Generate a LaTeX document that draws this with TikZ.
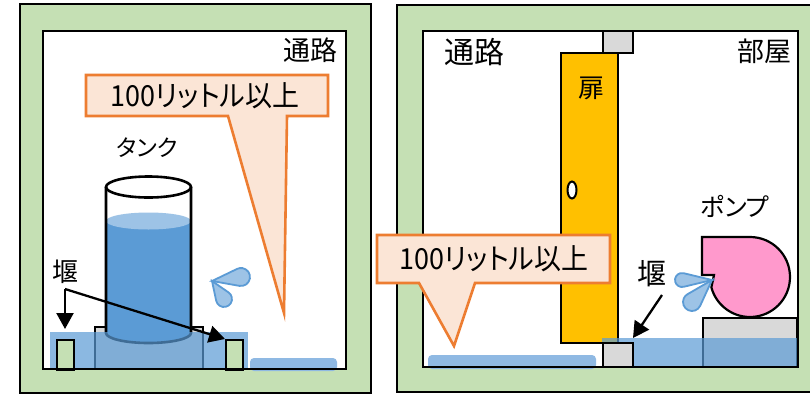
\documentclass[tikz,border=0pt]{standalone}
\usepackage{fontspec}
\newfontfamily\jp[RawFeature=+palt]{Noto Sans CJK JP}
\usetikzlibrary{arrows.meta,calc}
\definecolor{framegreen}{HTML}{C5E0B4}
\definecolor{doorgold}{HTML}{FFC000}
\definecolor{blockgray}{HTML}{D9D9D9}
\definecolor{pumppink}{HTML}{FF99CC}
\definecolor{notefill}{HTML}{FBE5D6}
\definecolor{noteline}{HTML}{ED7D31}
\definecolor{waterdark}{HTML}{5B9BD5}
\definecolor{waterlight}{HTML}{9DC3E6}
\definecolor{puddle}{HTML}{8FB9E3}
\begin{document}
\begin{tikzpicture}[x=1pt,y=-1pt,
  outline/.style={draw=black,line width=2.6pt},
  wall/.style={outline,fill=framegreen},
  room/.style={outline,fill=white},
  grayblock/.style={outline,line width=2.2pt,fill=blockgray},
  flood/.style={fill=waterdark,fill opacity=0.7},
  pool/.style={fill=puddle,rounded corners=4pt},
  callout/.style={fill=notefill,draw=noteline,line width=2.6pt,line join=miter},
  droplet/.style={fill=waterlight,draw=waterdark,line width=1.8pt},
  pointer/.style={line width=2.3pt,-{Triangle[length=16pt,width=17pt]}},
  label/.style={inner sep=0pt,font=\jp},
]
\useasboundingbox (0,0) rectangle (810,394);
\fill[white] (0,0) rectangle (810,394);

% ---------- left room: tank ----------
\draw[wall] (20,4) rectangle (371,393);
\draw[room] (43,31) rectangle (346,369);

% tank stand
\draw[grayblock] (95,327) rectangle (203,369);
% water inside the tank
\fill[waterdark] (106,221) -- (106,333)
  arc[start angle=180,end angle=0,x radius=42.5,y radius=10] -- (191,221) -- cycle;
\fill[waterlight] (148.5,221) ellipse[x radius=42.5,y radius=8.5];
% tank walls
\draw[room] (148.5,187) ellipse[x radius=42.5,y radius=10.5];
\draw[outline] (106,187) -- (106,333)
  arc[start angle=180,end angle=0,x radius=42.5,y radius=10] -- (191,187);
% water kept by the weirs
\fill[flood] (50,332) rectangle (248,369);
\node[draw=black,line width=2.2pt,fill=framegreen,minimum width=17pt,minimum height=30pt,
  inner sep=0pt,anchor=north west] (weirL) at (56,339) {};
\node[draw=black,line width=2.2pt,fill=framegreen,minimum width=17pt,minimum height=30pt,
  inner sep=0pt,anchor=north west] (weirR) at (225,339) {};
% spill on the floor
\fill[pool] (250,358) rectangle (337,371);
\draw[outline] (43,31) rectangle (346,369);

% labels
\node[label,font=\jp\fontsize{27pt}{27pt}\selectfont] (passL) at (310,50) {通路};
\node[label,font=\jp\fontsize{23pt}{23pt}\selectfont] (tank) at (147,148) {タンク};
\node[label,font=\jp\fontsize{26pt}{26pt}\selectfont] (weirlabL) at (65,272) {堰};
\coordinate (forkL) at (65,289);
\coordinate (tipL) at (65,329);
\draw[pointer] (forkL) -- (tipL);
\draw[pointer] (forkL) -- (weirR.north west);

% drops
\draw[droplet] (212,281) -- ($(241,277)+(100:9)$)
  arc[start angle=100,end angle=-115.8,radius=9] -- cycle;
\draw[droplet] (212,281) -- ($(224,299)+(168:8)$)
  arc[start angle=168,end angle=-55.4,radius=8] -- cycle;

% callout
\draw[callout] (86,75) -- (328,75) -- (328,116) -- (287,116) -- (284,313)
  -- (228,116) -- (86,116) -- cycle;
\node[label,font=\jp\fontsize{29pt}{29pt}\selectfont,xscale=0.93] (noteL) at (205,96) {100リットル以上};

% ---------- right room: pump ----------
\draw[wall] (397,5) rectangle (816,392);
\draw[room] (423,31) rectangle (798,367);

% door
\draw[outline,fill=doorgold] (561,53) rectangle (618,343);
\draw[outline,line width=2pt,fill=white] (572,190) ellipse[x radius=4.5,y radius=8.5];
\draw[grayblock] (603,31) rectangle (633,53);
\node[label,font=\jp\fontsize{26pt}{26pt}\selectfont] (door) at (591,88) {扉};

% pump and its base
\draw[grayblock] (703,318) rectangle (797,367);
\draw[outline,line width=2.2pt,fill=pumppink] (702,237) -- (750,237)
  arc[start angle=-90,end angle=165,radius=40] -- (714,275) -- (702,275) -- cycle;

% water in the room
\fill[flood] (602,338) rectangle (798,367);
\draw[grayblock] (603,343) rectangle (633,367);
\fill[pool] (428,355) rectangle (596,369);
\draw[outline] (423,31) rectangle (798,367);

% drops from the pump
\draw[droplet] (712,280) -- ($(682,280)+(76.5:7)$)
  arc[start angle=76.5,end angle=283.5,radius=7] -- cycle;
\draw[droplet] (712,280) -- ($(692,302)+(24.7:9)$)
  arc[start angle=24.7,end angle=239.9,radius=9] -- cycle;

% labels
\node[label,font=\jp\fontsize{30pt}{30pt}\selectfont] (passR) at (474,52) {通路};
\node[label,font=\jp\fontsize{27pt}{27pt}\selectfont] (roomR) at (764,51) {部屋};
\node[label,font=\jp\fontsize{25pt}{25pt}\selectfont] (pump) at (735,206) {ポンプ};
\node[label,font=\jp\fontsize{29pt}{29pt}\selectfont] (weirlabR) at (652,274) {堰};
\coordinate (fromR) at (662,295);
\coordinate (tipR) at (633,338);
\draw[pointer] (fromR) -- (tipR);

% callout
\draw[callout] (377,235) -- (610,235) -- (610,283) -- (475,283) -- (454,346)
  -- (419,283) -- (377,283) -- cycle;
\node[label,font=\jp\fontsize{29pt}{29pt}\selectfont,xscale=0.93] (noteR) at (494,259) {100リットル以上};
\end{tikzpicture}
\end{document}
